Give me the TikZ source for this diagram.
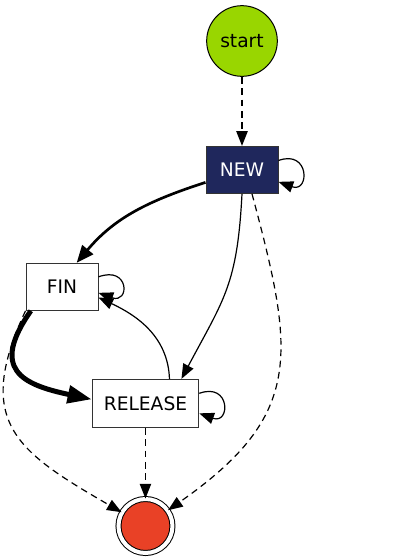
\documentclass[tikz,border=0pt]{standalone}
\usepackage{fontspec}
\setmainfont{DejaVu Sans}
\usetikzlibrary{positioning,arrows.meta}
\definecolor{startgreen}{RGB}{153,214,0}
\definecolor{newnavy}{RGB}{31,39,92}
\definecolor{endred}{RGB}{233,65,38}
\definecolor{boxgray}{RGB}{51,51,51}

\begin{document}
\begin{tikzpicture}[
  state/.style={draw=boxgray, line width=0.75pt, minimum width=54pt, minimum height=35.25pt, inner sep=0pt, font=\fontsize{14pt}{16pt}\selectfont},
  startstate/.style={circle, draw=black, fill=startgreen, line width=0.75pt, minimum size=53pt, inner sep=0pt, font=\fontsize{14pt}{16pt}\selectfont},
  endstate/.style={circle, draw=black, fill=endred, line width=0.75pt, double=white, double distance=3pt, minimum size=40.5pt, inner sep=0pt},
  arr/.style={-{Triangle[length=11pt,width=8.5pt]}, line width=0.9pt, black},
  dasharr/.style={arr, dash pattern=on 5pt off 3.5pt},
  heavyarr/.style={-{Triangle[length=13pt,width=10.5pt]}, line width=2pt, black},
  heaviestarr/.style={-{Triangle[length=18pt,width=13pt]}, line width=3.75pt, black}
]
\useasboundingbox (0,0) rectangle (304.5pt,-418.5pt);

\node[startstate] (start) at (181.5pt,-30.75pt) {start};
\node[state, fill=newnavy, text=white, below=51.75pt of start] (NEW) {NEW};
\node[state, below=51.75pt of NEW, xshift=-135pt] (FIN) {FIN};
\node[state, minimum width=80pt, minimum height=36pt, below=51pt of FIN, xshift=62.6pt] (RELEASE) {RELEASE};
\node[endstate, below=53pt of RELEASE] (end) {};

\draw[dasharr] (start) -- (NEW);
\draw[arr] ([yshift=7pt]NEW.east) .. controls +(20:25pt) and +(-20:25pt) .. ([yshift=-9pt]NEW.east);
\draw[heavyarr] ([yshift=-9.4pt]NEW.west) to[out=198, in=50] ([xshift=11pt]FIN.north);
\draw[arr] (NEW.south) to[out=-93, in=62, looseness=1.2] ([xshift=27pt]RELEASE.north);
\draw[dasharr] ([xshift=7.5pt]NEW.south) to[out=-75, in=35, looseness=1.3] (end.35);

\draw[arr] ([yshift=7.5pt]FIN.east) .. controls +(20:25pt) and +(-20:25pt) .. ([yshift=-4.5pt]FIN.east);
\draw[heaviestarr] ([xshift=4pt]FIN.south west) to[out=-125, in=168, looseness=1.7] ([yshift=3pt]RELEASE.west);
\draw[dasharr] (FIN.south west) to[out=-115, in=150, looseness=1.4] (end.150);

\draw[arr] ([xshift=18pt]RELEASE.north) to[out=92, in=-25] ([yshift=-8pt]FIN.east);
\draw[arr] ([yshift=7.5pt]RELEASE.east) .. controls +(20:25pt) and +(-20:25pt) .. ([yshift=-7.5pt]RELEASE.east);
\draw[dasharr] (RELEASE) -- (end);
\end{tikzpicture}
\end{document}
